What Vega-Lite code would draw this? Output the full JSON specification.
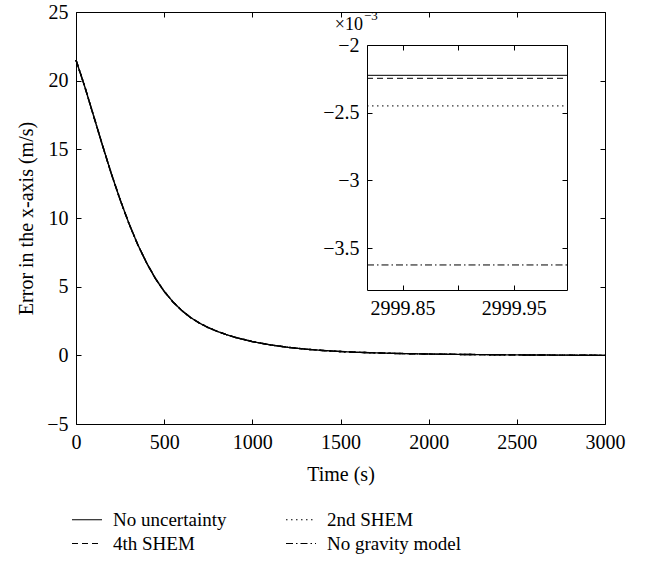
{
  "$schema": "https://vega.github.io/schema/vega-lite/v6.json",
  "width": 529,
  "height": 412,
  "autosize": "none",
  "padding": {"left": 76, "top": 12, "right": 40, "bottom": 141},
  "background": "white",
  "config": {
    "font": "Liberation Serif",
    "view": {"stroke": null},
    "axis": {
      "grid": false,
      "domainColor": "black",
      "domainWidth": 1,
      "tickColor": "black",
      "tickWidth": 1,
      "tickSize": -5,
      "labelColor": "black",
      "labelFont": "Liberation Serif",
      "labelFontSize": 20,
      "labelPadding": 13,
      "titleColor": "black",
      "titleFont": "Liberation Serif",
      "titleFontSize": 20,
      "titleFontWeight": "normal",
      "labelFlush": false,
      "labelOverlap": false
    }
  },
  "datasets": {
    "errors": [
      {"t": 0, "No uncertainty": 21.5, "4th SHEM": 21.5, "2nd SHEM": 21.5, "No gravity model": 21.5},
      {"t": 50, "No uncertainty": 19.55, "4th SHEM": 19.55, "2nd SHEM": 19.55, "No gravity model": 19.55},
      {"t": 100, "No uncertainty": 17.43, "4th SHEM": 17.43, "2nd SHEM": 17.43, "No gravity model": 17.43},
      {"t": 150, "No uncertainty": 15.3, "4th SHEM": 15.3, "2nd SHEM": 15.3, "No gravity model": 15.3},
      {"t": 200, "No uncertainty": 13.24, "4th SHEM": 13.24, "2nd SHEM": 13.24, "No gravity model": 13.24},
      {"t": 250, "No uncertainty": 11.34, "4th SHEM": 11.34, "2nd SHEM": 11.34, "No gravity model": 11.34},
      {"t": 300, "No uncertainty": 9.61, "4th SHEM": 9.61, "2nd SHEM": 9.61, "No gravity model": 9.61},
      {"t": 350, "No uncertainty": 8.07, "4th SHEM": 8.07, "2nd SHEM": 8.07, "No gravity model": 8.07},
      {"t": 400, "No uncertainty": 6.74, "4th SHEM": 6.74, "2nd SHEM": 6.74, "No gravity model": 6.74},
      {"t": 450, "No uncertainty": 5.6, "4th SHEM": 5.6, "2nd SHEM": 5.6, "No gravity model": 5.6},
      {"t": 500, "No uncertainty": 4.66, "4th SHEM": 4.66, "2nd SHEM": 4.66, "No gravity model": 4.66},
      {"t": 550, "No uncertainty": 3.89, "4th SHEM": 3.89, "2nd SHEM": 3.89, "No gravity model": 3.89},
      {"t": 600, "No uncertainty": 3.26, "4th SHEM": 3.26, "2nd SHEM": 3.26, "No gravity model": 3.26},
      {"t": 650, "No uncertainty": 2.75, "4th SHEM": 2.75, "2nd SHEM": 2.75, "No gravity model": 2.75},
      {"t": 700, "No uncertainty": 2.35, "4th SHEM": 2.35, "2nd SHEM": 2.35, "No gravity model": 2.35},
      {"t": 750, "No uncertainty": 2.02, "4th SHEM": 2.02, "2nd SHEM": 2.02, "No gravity model": 2.02},
      {"t": 800, "No uncertainty": 1.75, "4th SHEM": 1.75, "2nd SHEM": 1.75, "No gravity model": 1.75},
      {"t": 850, "No uncertainty": 1.52, "4th SHEM": 1.52, "2nd SHEM": 1.52, "No gravity model": 1.52},
      {"t": 900, "No uncertainty": 1.32, "4th SHEM": 1.32, "2nd SHEM": 1.32, "No gravity model": 1.32},
      {"t": 1000, "No uncertainty": 1.0, "4th SHEM": 1.0, "2nd SHEM": 1.0, "No gravity model": 1.0},
      {"t": 1100, "No uncertainty": 0.763, "4th SHEM": 0.763, "2nd SHEM": 0.763, "No gravity model": 0.763},
      {"t": 1200, "No uncertainty": 0.587, "4th SHEM": 0.587, "2nd SHEM": 0.587, "No gravity model": 0.587},
      {"t": 1300, "No uncertainty": 0.452, "4th SHEM": 0.452, "2nd SHEM": 0.452, "No gravity model": 0.452},
      {"t": 1400, "No uncertainty": 0.352, "4th SHEM": 0.352, "2nd SHEM": 0.352, "No gravity model": 0.352},
      {"t": 1500, "No uncertainty": 0.277, "4th SHEM": 0.277, "2nd SHEM": 0.277, "No gravity model": 0.277},
      {"t": 1600, "No uncertainty": 0.22, "4th SHEM": 0.22, "2nd SHEM": 0.22, "No gravity model": 0.22},
      {"t": 1800, "No uncertainty": 0.141, "4th SHEM": 0.141, "2nd SHEM": 0.141, "No gravity model": 0.141},
      {"t": 2000, "No uncertainty": 0.093, "4th SHEM": 0.093, "2nd SHEM": 0.093, "No gravity model": 0.093},
      {"t": 2200, "No uncertainty": 0.062, "4th SHEM": 0.062, "2nd SHEM": 0.062, "No gravity model": 0.062},
      {"t": 2400, "No uncertainty": 0.04, "4th SHEM": 0.04, "2nd SHEM": 0.04, "No gravity model": 0.04},
      {"t": 2600, "No uncertainty": 0.024, "4th SHEM": 0.024, "2nd SHEM": 0.024, "No gravity model": 0.024},
      {"t": 2800, "No uncertainty": 0.012, "4th SHEM": 0.012, "2nd SHEM": 0.012, "No gravity model": 0.012},
      {"t": 2999.8, "No uncertainty": -0.002224, "4th SHEM": -0.002246, "2nd SHEM": -0.00245, "No gravity model": -0.003625},
      {"t": 3000, "No uncertainty": -0.002224, "4th SHEM": -0.002246, "2nd SHEM": -0.00245, "No gravity model": -0.003625}
    ],
    "scaleNote": [
      {"base": "×10", "power": "−3"}
    ]
  },
  "resolve": {
    "scale": {"x": "independent", "y": "independent", "strokeDash": "shared"},
    "axis": {"x": "independent", "y": "independent"}
  },
  "layer": [
    {
      "data": {"name": "errors"},
      "transform": [
        {"fold": ["No uncertainty", "4th SHEM", "2nd SHEM", "No gravity model"], "as": ["series", "err"]}
      ],
      "mark": {"type": "line", "color": "black", "strokeWidth": 1.4},
      "encoding": {
        "x": {
          "field": "t", "type": "quantitative",
          "scale": {"domain": [0, 3000], "nice": false, "zero": false},
          "axis": {"orient": "bottom", "values": [0, 500, 1000, 1500, 2000, 2500, 3000], "format": "d", "title": "Time (s)", "titlePadding": 12}
        },
        "y": {
          "field": "err", "type": "quantitative",
          "scale": {"domain": [-5, 25], "nice": false, "zero": false},
          "axis": {"orient": "left", "values": [-5, 0, 5, 10, 15, 20, 25], "format": "d", "title": "Error in the x-axis (m/s)", "titlePadding": 10}
        },
        "strokeDash": {
          "field": "series", "type": "nominal",
          "scale": {
            "domain": ["No uncertainty", "4th SHEM", "2nd SHEM", "No gravity model"],
            "range": [[1, 0], [6, 4], [1.5, 3.5], [7, 3, 1.5, 3]]
          },
          "legend": {
            "title": null,
            "orient": "none",
            "legendX": -5,
            "legendY": 498,
            "columns": 2,
            "columnPadding": 58,
            "rowPadding": 4,
            "clipHeight": 19,
            "symbolType": "stroke",
            "symbolSize": 900,
            "symbolStrokeColor": "black",
            "symbolStrokeWidth": 1.2,
            "labelFont": "Liberation Serif",
            "labelFontSize": 19,
            "labelColor": "black",
            "labelOffset": 10
          }
        }
      }
    },
    {
      "data": {"name": "errors"},
      "transform": [
        {"fold": ["No uncertainty", "4th SHEM", "2nd SHEM", "No gravity model"], "as": ["series", "err"]}
      ],
      "mark": {"type": "line", "opacity": 0},
      "encoding": {
        "x": {
          "field": "t", "type": "quantitative",
          "scale": {"domain": [0, 3000], "nice": false, "zero": false},
          "axis": {"orient": "top", "values": [0, 500, 1000, 1500, 2000, 2500, 3000], "labels": false, "title": null}
        },
        "y": {
          "field": "err", "type": "quantitative",
          "scale": {"domain": [-5, 25], "nice": false, "zero": false},
          "axis": {"orient": "right", "values": [-5, 0, 5, 10, 15, 20, 25], "labels": false, "title": null}
        },
        "detail": {"field": "series"}
      }
    },
    {
      "data": {"name": "errors"},
      "transform": [
        {"filter": "datum.t > 2999"},
        {"fold": ["No uncertainty", "4th SHEM", "2nd SHEM", "No gravity model"], "as": ["series", "err"]}
      ],
      "mark": {"type": "line", "color": "black", "strokeWidth": 1},
      "encoding": {
        "x": {
          "field": "t", "type": "quantitative",
          "scale": {"domain": [2999.818, 2999.998], "range": [291, 491], "clamp": true, "nice": false, "zero": false},
          "axis": {"orient": "bottom", "offset": -134, "values": [2999.85, 2999.9, 2999.95], "labelExpr": "abs(datum.value - 2999.9) < 0.001 ? '' : format(datum.value, '.2f')", "title": null}
        },
        "y": {
          "field": "err", "type": "quantitative",
          "scale": {"domain": [-0.00381, -0.002], "range": [278, 33], "nice": false, "zero": false},
          "axis": {"orient": "left", "offset": -291, "values": [-0.002, -0.0025, -0.003, -0.0035], "labelExpr": "format(datum.value * 1000, '.1~f')", "title": null}
        },
        "strokeDash": {"field": "series", "type": "nominal"}
      }
    },
    {
      "data": {"name": "scaleNote"},
      "mark": {"type": "text", "align": "right", "baseline": "alphabetic", "dx": -4, "dy": -15, "fontSize": 18, "color": "black"},
      "encoding": {
        "text": {"field": "base"},
        "x": {
          "datum": 2999.818, "type": "quantitative",
          "scale": {"domain": [2999.818, 2999.998], "range": [291, 491], "nice": false, "zero": false},
          "axis": {"orient": "top", "offset": -33, "values": [2999.85, 2999.9, 2999.95], "labels": false, "title": null}
        },
        "y": {
          "datum": -0.002, "type": "quantitative",
          "scale": {"domain": [-0.00381, -0.002], "range": [278, 33], "nice": false, "zero": false},
          "axis": {"orient": "right", "offset": -38, "values": [-0.002, -0.0025, -0.003, -0.0035], "labels": false, "title": null}
        }
      }
    },
    {
      "data": {"name": "scaleNote"},
      "mark": {"type": "text", "align": "left", "baseline": "alphabetic", "dx": -3, "dy": -25, "fontSize": 13, "color": "black"},
      "encoding": {
        "text": {"field": "power"},
        "x": {
          "datum": 2999.818, "type": "quantitative",
          "scale": {"domain": [2999.818, 2999.998], "range": [291, 491], "nice": false, "zero": false},
          "axis": null
        },
        "y": {
          "datum": -0.002, "type": "quantitative",
          "scale": {"domain": [-0.00381, -0.002], "range": [278, 33], "nice": false, "zero": false},
          "axis": null
        }
      }
    }
  ]
}
